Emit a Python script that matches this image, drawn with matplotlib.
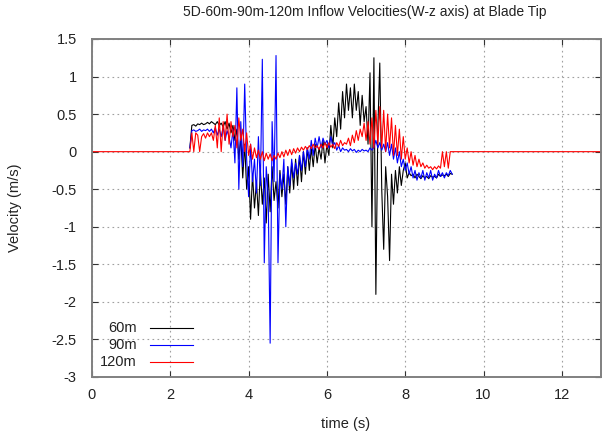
import numpy as np
import matplotlib
matplotlib.use('Agg')
import matplotlib.pyplot as plt
from matplotlib.lines import Line2D

plt.rcParams['font.family'] = ['Liberation Sans', 'DejaVu Sans']

# sample times of the records (s), 0.05 s step
t = np.round(np.arange(2.5, 9.2001, 0.05), 2)

v_60m = [
    0.05, 0.35, 0.36, 0.34, 0.37, 0.36, 0.38, 0.36, 0.37, 0.39,
    0.37, 0.40, 0.38, 0.36, 0.40, 0.35, 0.38, 0.33, 0.40, 0.30,
    0.38, 0.25, 0.35, 0.15, 0.30, -0.10, 0.20, -0.35, 0.10, -0.50,
    -0.20, -0.90, -0.30, -0.75, -0.40, -0.85, -0.25, -0.70, -0.35, -0.95,
    -0.30, -0.80, -0.20, -0.65, -0.40, -0.75, -0.25, -0.60, -0.30, -0.70,
    -0.20, -0.55, -0.15, -0.50, -0.10, -0.45, -0.05, -0.40, 0.00, -0.30,
    0.05, -0.25, 0.05, -0.20, 0.10, -0.15, 0.05, -0.10, 0.15, -0.15,
    0.10, -0.05, 0.35, 0.05, 0.45, 0.20, 0.65, 0.30, 0.80, 0.45,
    0.90, 0.55, 0.85, 0.45, 0.90, 0.55, 0.80, 0.35, 0.75, 0.40,
    0.60, 0.10, 1.05, -1.00, 1.25, -1.90, 0.30, 1.18, -0.50, -1.30,
    -0.20, -0.60, -1.45, -0.30, -0.70, -0.25, -0.55, -0.20, -0.45, -0.25,
    -0.15, -0.35, -0.28, -0.32, -0.30, -0.35, -0.30, -0.33, -0.36, -0.32,
    -0.35, -0.33, -0.36, -0.32, -0.34, -0.33, -0.35, -0.30, -0.33, -0.31,
    -0.32, -0.30, -0.33, -0.29, -0.30,
]

v_90m = [
    0.05, 0.28, 0.29, 0.27, 0.28, 0.30, 0.27, 0.29, 0.28, 0.30,
    0.27, 0.30, 0.25, 0.32, 0.22, 0.30, 0.20, 0.33, 0.15, 0.28,
    0.20, 0.05, 0.30, -0.15, 0.85, -0.50, 0.40, -0.20, 0.90, -0.10,
    -0.60, 0.10, -0.40, -0.10, -0.55, 0.20, -0.45, 1.23, -1.48, -0.20,
    -0.60, -2.55, 0.40, -0.40, 1.28, -1.48, -0.30, -0.50, -0.10, -1.00,
    -0.20, -0.45, -0.10, -0.35, -0.15, -0.30, -0.05, -0.25, 0.00, -0.20,
    0.05, -0.10, 0.15, -0.05, 0.18, 0.05, 0.20, 0.05, 0.18, 0.10,
    0.15, 0.05, 0.20, 0.08, 0.12, 0.02, 0.08, 0.00, 0.05, 0.02,
    0.03, 0.00, 0.04, 0.01, 0.03, -0.01, 0.02, 0.00, 0.03, 0.01,
    0.02, 0.00, 0.05, 0.02, 0.06, 0.15, 0.05, 0.12, 0.02, 0.10,
    0.00, 0.12, -0.05, 0.10, -0.10, 0.05, -0.15, 0.00, -0.20, -0.10,
    -0.25, -0.15, -0.30, -0.20, -0.35, -0.25, -0.38, -0.28, -0.35, -0.25,
    -0.38, -0.28, -0.35, -0.25, -0.38, -0.30, -0.35, -0.25, -0.33, -0.28,
    -0.35, -0.28, -0.32, -0.25, -0.30,
]

v_120m = [
    0.00, 0.25, 0.00, 0.25, 0.22, 0.00, 0.20, 0.24, 0.18, 0.25,
    0.20, 0.25, 0.15, 0.35, 0.05, 0.45, 0.00, 0.40, 0.15, 0.50,
    0.10, 0.40, 0.20, 0.35, 0.05, 0.45, 0.15, 0.30, 0.00, 0.25,
    -0.05, 0.10, -0.10, 0.05, -0.08, 0.02, -0.10, 0.00, -0.12, -0.02,
    -0.10, -0.03, -0.12, -0.05, -0.10, -0.02, -0.08, 0.00, -0.07, 0.02,
    -0.05, 0.03, -0.04, 0.04, -0.02, 0.05, 0.00, 0.06, 0.02, 0.07,
    0.03, 0.08, 0.04, 0.10, 0.05, 0.08, 0.03, 0.10, 0.05, 0.12,
    0.05, 0.12, 0.06, 0.10, 0.04, 0.12, 0.07, 0.15, 0.08, 0.12,
    0.10, 0.18, 0.08, 0.22, 0.12, 0.28, 0.15, 0.30, 0.20, 0.38,
    0.15, 0.40, 0.10, 0.45, 0.05, 0.55, 0.10, 0.60, 0.05, 0.55,
    0.00, 0.50, 0.05, 0.45, -0.05, 0.35, -0.05, 0.30, -0.10, 0.20,
    -0.10, 0.05, -0.15, 0.00, -0.18, -0.05, -0.20, -0.10, -0.20, -0.15,
    -0.22, -0.18, -0.22, -0.20, -0.24, -0.20, -0.23, -0.19, -0.22, 0.00,
    -0.20, 0.00, -0.22, 0.00, 0.00,
]

# 120m record is zero outside the sampled window
red_lead_t, red_lead_v = [0.0], [0.0]
red_tail_t, red_tail_v = [13.0], [0.0]

labels = ['60m', '90m', '120m']
colors = ['black', '#0000ff', '#ff0000']

fig = plt.figure(figsize=(6.06, 4.32), dpi=100)
ax = fig.add_axes([92 / 606, 55 / 432, 509 / 606, 338 / 432])

ax.plot(t, v_60m, color=colors[0], lw=0.8)
ax.plot(t, v_90m, color=colors[1], lw=0.8)
red_t = np.concatenate([red_lead_t, t, red_tail_t])
red_v = np.concatenate([red_lead_v, v_120m, red_tail_v])
ax.plot(red_t, red_v, color=colors[2], lw=0.8)

ax.set_xlim(0, 13)
ax.set_ylim(-3, 1.5)
ax.set_xticks(range(0, 13, 2))
ax.set_yticks(np.arange(-3, 1.51, 0.5))
ax.set_yticklabels(['-3', '-2.5', '-2', '-1.5', '-1', '-0.5', '0', '0.5', '1', '1.5'])
ax.grid(True, color='#a0a0a0', ls=(0, (1.5, 3)), lw=0.8)
ax.tick_params(direction='in', top=True, right=True, length=4, labelsize=10.5,
               color='#333333', labelcolor='#222222')
ax.tick_params(axis='y', pad=11)
ax.tick_params(axis='x', pad=8)
for s in ax.spines.values():
    s.set_color('#808080')
    s.set_linewidth(1.4)

ax.set_xlabel('time (s)', fontsize=10.5, color='#222222')
ax.set_ylabel('Velocity (m/s)', fontsize=10.5, color='#222222')
ax.xaxis.set_label_coords((346 - 92) / 509, -(417 - 377) / 338)
ax.yaxis.set_label_coords(-(92 - 22) / 509, 0.5)
fig.text(365 / 606, 1 - 12 / 432, '5D-60m-90m-120m Inflow Velocities(W-z axis) at Blade Tip',
         ha='center', va='center', fontsize=10, color='#222222')

# key: right-aligned labels followed by line samples, like gnuplot
key_rows = [328, 345, 362]
for lab, col, yp in zip(labels, colors, key_rows):
    fy = 1 - yp / 432
    fig.text(137 / 606, fy, lab, ha='right', va='center', fontsize=10.5, color='#222222')
    fig.add_artist(Line2D([150 / 606, 193 / 606], [fy, fy], color=col, lw=0.8))

fig.savefig('out.png', dpi=100)
